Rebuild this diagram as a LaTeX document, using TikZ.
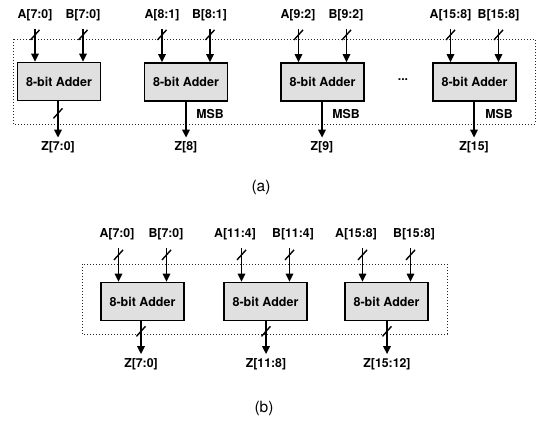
\documentclass[tikz,border=0pt]{standalone}
\usepackage{fontspec}
\setmainfont{TeX Gyre Heros}
\usetikzlibrary{arrows.meta}
\begin{document}
\begin{tikzpicture}[x=1pt,y=-1pt,
  adder/.style={draw, line width=1.6pt, fill={rgb,255:red,224;green,224;blue,224},
    minimum width=83pt, minimum height=38pt, inner sep=0pt,
    font=\bfseries\fontsize{12.5}{14}\selectfont},
  lbl/.style={font=\bfseries\fontsize{12.3}{14}\selectfont, inner sep=1pt},
  captxt/.style={font=\fontsize{15.5}{17}\selectfont, inner sep=1pt},
  arr/.style={line width=1.5pt, -{Triangle[length=8pt,width=7.5pt]}},
  inarr/.style={arr, shorten <=7pt},
  outarr/.style={arr, shorten >=3pt},
  slash/.style={line width=1.4pt},
  frame/.style={dotted, line width=1pt, black!85}
]
\useasboundingbox (0,0) rectangle (537,423);

% ---------------- (a) ----------------
\draw[frame] (13,39) rectangle (535,124);

\node[adder] (a1) at (59,81.5) {8-bit Adder};
\node[adder] (a2) at (186,82) {8-bit Adder};
\node[adder] (a3) at (322.5,82) {8-bit Adder};
\node[adder] (a4) at (474.5,82) {8-bit Adder};

\node[lbl] (a1A) at (35,15) {A[7:0]};
\node[lbl] (a1B) at (83,15) {B[7:0]};
\node[lbl] (a2A) at (162,15) {A[8:1]};
\node[lbl] (a2B) at (209.5,15) {B[8:1]};
\node[lbl] (a3A) at (298,15) {A[9:2]};
\node[lbl] (a3B) at (346,15) {B[9:2]};
\node[lbl] (a4A) at (450.5,15) {A[15:8]};
\node[lbl] (a4B) at (498.5,15) {B[15:8]};

\foreach \b in {a1,a2,a3,a4}{
  \coordinate (\b ia) at ([xshift=-24pt]\b.north);
  \coordinate (\b ib) at ([xshift=24pt]\b.north);
  \coordinate (\b ta) at (\b ia |- \b A.south);
  \coordinate (\b tb) at (\b ib |- \b B.south);
  \coordinate (\b sa) at ([yshift=-13pt]\b ta);
  \coordinate (\b sb) at ([yshift=-13pt]\b tb);
  \draw[inarr] (\b ta) -- (\b ia);
  \draw[inarr] (\b tb) -- (\b ib);
  \draw[slash] ([shift={(-4.5pt,-5pt)}]\b sa) -- ([shift={(4.5pt,5pt)}]\b sa);
  \draw[slash] ([shift={(-4.5pt,-5pt)}]\b sb) -- ([shift={(4.5pt,5pt)}]\b sb);
}

\node[lbl] (a1Z) at (58,147.5) {Z[7:0]};
\node[lbl] (a2Z) at (186,147.5) {Z[8]};
\node[lbl] (a3Z) at (322,147.5) {Z[9]};
\node[lbl] (a4Z) at (474,147.5) {Z[15]};

\draw[outarr] (a1.south -| a1Z) -- (a1Z.north);
\coordinate (a1so) at ([yshift=-12pt]a1.south -| a1Z);
\draw[slash] ([shift={(-4.5pt,-5pt)}]a1so) -- ([shift={(4.5pt,5pt)}]a1so);
\draw[outarr] (a2.south -| a2Z) -- (a2Z.north);
\draw[outarr] (a3.south -| a3Z) -- (a3Z.north);
\draw[outarr] (a4.south -| a4Z) -- (a4Z.north);

\node[lbl] (m2) at (210,114) {MSB};
\node[lbl] (m3) at (346,114.5) {MSB};
\node[lbl] (m4) at (499,114.5) {MSB};

\node[lbl] (dots) at (403,80) {...};

\node[captxt] (capa) at (261,187) {(a)};

% ---------------- (b) ----------------
\draw[frame] (82,264) rectangle (447,334);

\node[adder] (b1) at (142.5,301.5) {8-bit Adder};
\node[adder] (b2) at (265.5,301.5) {8-bit Adder};
\node[adder] (b3) at (386.5,301.5) {8-bit Adder};

\node[lbl] (b1A) at (117,234) {A[7:0]};
\node[lbl] (b1B) at (166,234) {B[7:0]};
\node[lbl] (b2A) at (235,234) {A[11:4]};
\node[lbl] (b2B) at (293,234) {B[11:4]};
\node[lbl] (b3A) at (356,234) {A[15:8]};
\node[lbl] (b3B) at (414,234) {B[15:8]};

\foreach \b in {b1,b2,b3}{
  \coordinate (\b ia) at ([xshift=-24pt]\b.north);
  \coordinate (\b ib) at ([xshift=24pt]\b.north);
  \coordinate (\b ta) at (\b ia |- \b A.south);
  \coordinate (\b tb) at (\b ib |- \b B.south);
  \coordinate (\b sa) at ([yshift=-14pt]\b ta);
  \coordinate (\b sb) at ([yshift=-14pt]\b tb);
  \draw[inarr] (\b ta) -- (\b ia);
  \draw[inarr] (\b tb) -- (\b ib);
  \draw[slash] ([shift={(-4.5pt,-5pt)}]\b sa) -- ([shift={(4.5pt,5pt)}]\b sa);
  \draw[slash] ([shift={(-4.5pt,-5pt)}]\b sb) -- ([shift={(4.5pt,5pt)}]\b sb);
}

\node[lbl] (b1Z) at (141,364) {Z[7:0]};
\node[lbl] (b2Z) at (266,364) {Z[11:8]};
\node[lbl] (b3Z) at (387,364) {Z[15:12]};

\foreach \b in {b1,b2,b3}{
  \coordinate (\b ob) at (\b.south -| \b Z);
  \coordinate (\b so) at ([yshift=-10pt]\b ob);
  \draw[outarr] (\b ob) -- (\b Z.north);
  \draw[slash] ([shift={(-4.5pt,-5pt)}]\b so) -- ([shift={(4.5pt,5pt)}]\b so);
}

\node[captxt] (capb) at (264,408) {(b)};
\end{tikzpicture}
\end{document}
